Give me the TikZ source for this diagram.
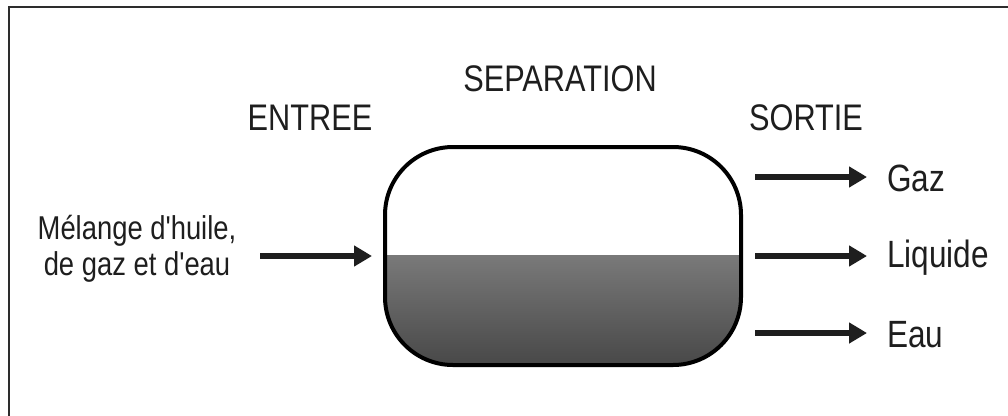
\documentclass[tikz,border=0pt]{standalone}
\usepackage{fontspec}
\usetikzlibrary{arrows.meta}
\newfontfamily\labfont{Liberation Sans}[FakeStretch=0.83]
\definecolor{ink}{RGB}{30,30,30}
\definecolor{liqtop}{RGB}{170,170,170}
\definecolor{liqbot}{RGB}{72,72,72}
\definecolor{framecol}{RGB}{45,45,45}
\begin{document}
\begin{tikzpicture}[x=1pt,y=-1pt,
  frame/.style={line width=2.6pt, draw=framecol},
  title/.style={inner sep=0pt, font=\labfont\fontsize{37}{40}\selectfont, text=ink, text height=27pt, text depth=0pt},
  outlab/.style={inner sep=0pt, anchor=west, font=\labfont\fontsize{38}{40}\selectfont, text=ink, text height=28pt, text depth=0pt},
  inlab/.style={inner sep=0pt, align=center, font=\labfont\fontsize{33}{36}\selectfont, text=ink},
  flow/.style={line width=5.5pt, draw=ink, -{Triangle[length=18pt,width=20pt]}},
  vessel/.style={draw=black, line width=4pt, rounded corners=68pt, minimum width=356pt, minimum height=218pt, inner sep=0pt,
    path picture={\shade[sharp corners, top color=liqtop, bottom color=liqbot] (path picture bounding box.south west) rectangle (path picture bounding box.east |- lvl);}}
]
\useasboundingbox (0,0) rectangle (1008,415);
\draw[frame] (9,416) -- (9,7) -- (1009,7);
\coordinate (lvl) at (0,255);
\node[vessel] (sep) at (563,256) {};
\node[title] (tsep) at (560,78) {SEPARATION};
\node[title] (tin) at (310,117) {ENTREE};
\node[title] (tout) at (806,117) {SORTIE};
\node[inlab] (mix) at (137,249) {Mélange d'huile,\\de gaz et d'eau};
\node[outlab] (gaz) at (887,177) {Gaz};
\node[outlab] (liq) at (887,253) {Liquide};
\node[outlab] (eau) at (887,333) {Eau};
\coordinate (in1) at (260,256);
\draw[flow] (in1) -- ([xshift=-11pt]in1 -| sep.west);
\draw[flow] ([xshift=12pt]sep.east |- gaz) -- ([xshift=-20pt]gaz.west);
\draw[flow] ([xshift=12pt]sep.east |- 0,256) -- ([xshift=-20pt]liq.west |- 0,256);
\draw[flow] ([xshift=12pt]sep.east |- eau) -- ([xshift=-20pt]eau.west);
\end{tikzpicture}
\end{document}
